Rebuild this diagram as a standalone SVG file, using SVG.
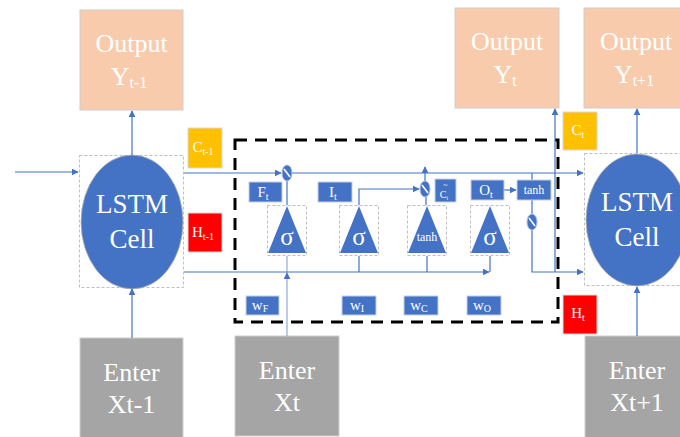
<svg xmlns="http://www.w3.org/2000/svg" width="680" height="437" viewBox="0 0 680 437">
  <style>
    text { font-family: "Liberation Serif", "Times New Roman", serif; fill: #ffffff; text-anchor: middle; }
    .out { fill: #f8cbad; stroke: #d0cece; stroke-width: 1; }
    .inp { fill: #a5a5a5; stroke: #d0cece; stroke-width: 1; }
    .cell { fill: #4472c4; stroke: #b4b4b4; stroke-width: 0.8; }
    .frame { fill: none; stroke: #bfbfbf; stroke-width: 1; stroke-dasharray: 3 2; }
    .blk { fill: #4472c4; stroke: #c5d0e6; stroke-width: 1; }
    .tri { fill: #4472c4; }
    .mul { fill: #4472c4; stroke: #a9bde3; stroke-width: 1; }
    .slash { stroke: #ffffff; stroke-width: 1.6; }
    .ln { fill: none; stroke: #4472c4; stroke-width: 1.2; }
    .lt { fill: none; stroke: #8faadc; stroke-width: 1.2; }
    .big { font-size: 26px; }
    .cellt { font-size: 27px; }
    .lab { font-size: 15px; }
    .sm { font-size: 12px; }
  </style>
  <defs>
    <marker id="ah" viewBox="0 0 10 10" refX="9" refY="5" markerWidth="7" markerHeight="7" markerUnits="userSpaceOnUse" orient="auto">
      <path d="M0,0 L10,5 L0,10 z" fill="#4472c4"/>
    </marker>
  </defs>

  <!-- output boxes -->
  <g id="output-prev">
    <rect class="out" x="80" y="10" width="103" height="100"/>
    <text class="big" x="131.5" y="52">Output</text>
    <text class="big" x="129" y="85">Y<tspan font-size="16" dy="3">t-1</tspan></text>
  </g>
  <g id="output-cur">
    <rect class="out" x="455" y="8" width="104" height="100"/>
    <text class="big" x="507" y="50">Output</text>
    <text class="big" x="505" y="83">Y<tspan font-size="16" dy="3">t</tspan></text>
  </g>
  <g id="output-next">
    <rect class="out" x="584" y="8" width="104" height="100"/>
    <text class="big" x="636" y="50">Output</text>
    <text class="big" x="634" y="83">Y<tspan font-size="16" dy="3">t+1</tspan></text>
  </g>

  <!-- LSTM cells -->
  <g id="cell-prev">
    <rect class="frame" x="79.5" y="155.5" width="104" height="132"/>
    <ellipse class="cell" cx="132" cy="222" rx="51" ry="67"/>
    <text class="cellt" x="132" y="213">LSTM</text>
    <text class="cellt" x="132" y="248">Cell</text>
  </g>
  <g id="cell-next">
    <rect class="frame" x="584.5" y="153.5" width="104" height="132"/>
    <ellipse class="cell" cx="637" cy="220" rx="51" ry="66"/>
    <text class="cellt" x="637" y="211">LSTM</text>
    <text class="cellt" x="637" y="246">Cell</text>
  </g>

  <!-- state tags -->
  <g id="c-prev">
    <rect x="188" y="128" width="34" height="40" fill="#ffc000" stroke="#d9d9d9"/>
    <text class="lab" x="203" y="152">C<tspan font-size="10" dy="3">t-1</tspan></text>
  </g>
  <g id="h-prev">
    <rect x="188" y="213" width="34" height="39" fill="#ff0000" stroke="#d9d9d9"/>
    <text class="lab" x="203" y="237">H<tspan font-size="10" dy="3">t-1</tspan></text>
  </g>
  <g id="c-cur">
    <rect x="563" y="112" width="34" height="38" fill="#ffc000" stroke="#d9d9d9"/>
    <text class="lab" x="578" y="135">C<tspan font-size="10" dy="3">t</tspan></text>
  </g>
  <g id="h-cur">
    <rect x="563" y="295" width="34" height="39" fill="#ff0000" stroke="#d9d9d9"/>
    <text class="lab" x="578" y="318">H<tspan font-size="10" dy="3">t</tspan></text>
  </g>

  <!-- input boxes -->
  <g id="input-prev">
    <rect class="inp" x="80" y="338" width="103" height="100"/>
    <text class="big" x="131.5" y="381">Enter</text>
    <text class="big" x="131.5" y="413">Xt-1</text>
  </g>
  <g id="input-cur">
    <rect class="inp" x="235" y="336" width="104" height="100"/>
    <text class="big" x="287" y="379">Enter</text>
    <text class="big" x="287" y="411">Xt</text>
  </g>
  <g id="input-next">
    <rect class="inp" x="585" y="336" width="104" height="102"/>
    <text class="big" x="637" y="379">Enter</text>
    <text class="big" x="637" y="411">Xt+1</text>
  </g>

  <!-- cell internals boundary -->
  <rect id="cell-detail" x="235" y="140" width="323" height="182" fill="none" stroke="#000000" stroke-width="3" stroke-dasharray="12 8"/>

  <!-- connectors -->
  <g id="connectors">
    <path class="ln" d="M15,172 H78" marker-end="url(#ah)"/>
    <path class="ln" d="M132,155 V111" marker-end="url(#ah)"/>
    <path class="ln" d="M132,338 V289" marker-end="url(#ah)"/>
    <path class="ln" d="M184,173 H281" marker-end="url(#ah)"/>
    <path class="ln" d="M292,173 H583" marker-end="url(#ah)"/>
    <path class="ln" d="M287,205 V181"/>
    <path class="lt" d="M287,336 V273" marker-end="url(#ah)"/>
    <path class="lt" d="M287,273 V256"/>
    <path class="ln" d="M184,272 H489" marker-end="url(#ah)"/>
    <path class="ln" d="M490,256 V272"/>
    <path class="ln" d="M359,256 V272"/>
    <path class="ln" d="M427,256 V272"/>
    <path class="ln" d="M359,205 V189 H419" marker-end="url(#ah)"/>
    <path class="ln" d="M426,205 V197"/>
    <path class="ln" d="M425,181 V167" marker-end="url(#ah)"/>
    <path class="ln" d="M504,190 H516" marker-end="url(#ah)"/>
    <path class="ln" d="M532,173 V180"/>
    <path class="ln" d="M532,200 V214"/>
    <path class="ln" d="M532,230 V272 H583" marker-end="url(#ah)"/>
    <path class="ln" d="M555,272 V109" marker-end="url(#ah)"/>
    <path class="ln" d="M637,153 V109" marker-end="url(#ah)"/>
    <path class="ln" d="M637,336 V287" marker-end="url(#ah)"/>
  </g>

  <!-- gate activations -->
  <g id="gate-forget">
    <rect class="frame" x="267.5" y="205.5" width="39" height="50"/>
    <path class="tri" d="M287,206 L306,253 L268,253 z"/>
    <text x="287" y="245" font-size="25">σ</text>
  </g>
  <g id="gate-input">
    <rect class="frame" x="339.5" y="205.5" width="39" height="50"/>
    <path class="tri" d="M359,206 L378,253 L340,253 z"/>
    <text x="359" y="245" font-size="25">σ</text>
  </g>
  <g id="gate-candidate">
    <rect class="frame" x="407.5" y="205.5" width="39" height="50"/>
    <path class="tri" d="M427,206 L446,253 L408,253 z"/>
    <text x="427" y="241" font-size="12">tanh</text>
  </g>
  <g id="gate-output">
    <rect class="frame" x="470.5" y="205.5" width="39" height="50"/>
    <path class="tri" d="M490,206 L509,253 L471,253 z"/>
    <text x="490" y="245" font-size="25">σ</text>
  </g>

  <!-- gate labels -->
  <g id="label-f">
    <rect class="blk" x="249" y="182" width="33" height="20"/>
    <text class="lab" x="263" y="197">F<tspan font-size="10" dy="3">t</tspan></text>
  </g>
  <g id="label-i">
    <rect class="blk" x="318" y="182" width="34" height="20"/>
    <text class="lab" x="333" y="197">I<tspan font-size="10" dy="3">t</tspan></text>
  </g>
  <g id="label-c">
    <rect class="blk" x="435" y="179" width="21" height="23"/>
    <text font-size="10"><tspan x="445.5" y="188" font-size="8">~</tspan><tspan x="444" y="198">C</tspan><tspan font-size="6" dy="2">t</tspan></text>
  </g>
  <g id="label-o">
    <rect class="blk" x="471" y="180" width="33" height="20"/>
    <text class="lab" x="486" y="195">O<tspan font-size="10" dy="3">t</tspan></text>
  </g>
  <g id="tanh-out">
    <rect class="blk" x="517" y="180" width="34" height="20"/>
    <text class="sm" x="534" y="194">tanh</text>
  </g>

  <!-- pointwise products -->
  <g id="mul-forget">
    <ellipse class="mul" cx="287" cy="173" rx="5" ry="8"/>
    <line class="slash" x1="284" y1="169" x2="290" y2="177"/>
  </g>
  <g id="mul-input">
    <ellipse class="mul" cx="425" cy="189" rx="5" ry="8"/>
    <line class="slash" x1="422" y1="185" x2="428" y2="193"/>
  </g>
  <g id="mul-output">
    <ellipse class="mul" cx="532" cy="222" rx="5" ry="8"/>
    <line class="slash" x1="529" y1="218" x2="535" y2="226"/>
  </g>

  <!-- weights -->
  <g id="w-f">
    <rect class="blk" x="246" y="296" width="33" height="19"/>
    <text class="lab" x="260" y="310">w<tspan font-size="10" dy="2">F</tspan></text>
  </g>
  <g id="w-i">
    <rect class="blk" x="342" y="296" width="34" height="19"/>
    <text class="lab" x="357" y="310">w<tspan font-size="10" dy="2">I</tspan></text>
  </g>
  <g id="w-c">
    <rect class="blk" x="404" y="296" width="34" height="19"/>
    <text class="lab" x="419" y="310">w<tspan font-size="10" dy="2">C</tspan></text>
  </g>
  <g id="w-o">
    <rect class="blk" x="467" y="296" width="34" height="19"/>
    <text class="lab" x="482" y="310">w<tspan font-size="10" dy="2">O</tspan></text>
  </g>
</svg>
